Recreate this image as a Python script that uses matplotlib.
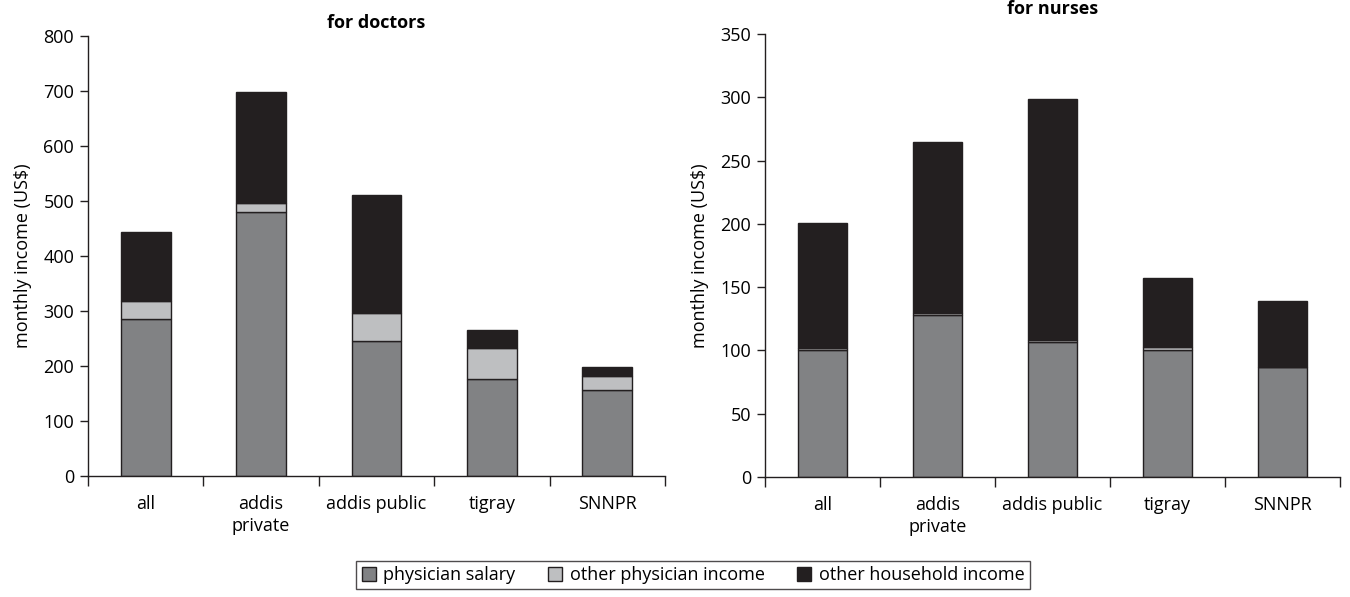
import numpy as np
import matplotlib
matplotlib.use("Agg")
import matplotlib.pyplot as plt
from matplotlib.patches import Patch

plt.rcParams['font.family'] = ['Open Sans', 'DejaVu Sans']

# categories and values
regions = ['all', 'addis\nprivate', 'addis public', 'tigray', 'SNNPR']
series_names = ['physician salary', 'other physician income', 'other household income']

doc_salary = [286, 480, 246, 177, 157]
doc_other_phys = [33, 16, 50, 56, 24]
doc_household = [125, 203, 215, 33, 17]

nurse_salary = [100.6, 127.7, 106.6, 100.6, 86.9]
nurse_other_phys = [1.4, 1.8, 1.8, 2.1, 0.4]
nurse_household = [98.6, 134.8, 189.9, 54.5, 51.4]

colors = ['#818284', '#bebfc1', '#231f20']
edge = '#231f20'
FS = 13


def draw_panel(ax, stacks, ymax, ystep, title, title_y):
    x = np.arange(len(regions))
    bottom = np.zeros(len(regions))
    for vals, c in zip(stacks, colors):
        ax.bar(x, vals, width=0.43, bottom=bottom, color=c,
               edgecolor=edge, linewidth=1.0, zorder=2)
        bottom = bottom + np.array(vals)

    ax.set_xlim(-0.5, len(regions) - 0.5)
    ax.set_ylim(0, ymax)
    ax.set_yticks(np.arange(0, ymax + 1, ystep))
    ax.set_xticks(np.arange(-0.5, len(regions) - 0.4, 1.0))
    ax.set_xticklabels([])
    ax.set_xticks(x, minor=True)
    ax.set_xticklabels(regions, minor=True, fontsize=FS)
    ax.tick_params(axis='x', which='minor', length=0, pad=14)
    ax.tick_params(axis='x', which='major', length=7, width=1, color=edge)
    ax.tick_params(axis='y', length=6, width=1, color=edge, labelsize=FS, pad=4)
    for lab in ax.get_xticklabels(minor=True):
        lab.set_verticalalignment('top')
        lab.set_linespacing(1.25)

    for s in ['top', 'right']:
        ax.spines[s].set_visible(False)
    for s in ['left', 'bottom']:
        ax.spines[s].set_color(edge)
        ax.spines[s].set_linewidth(1.0)

    ax.set_ylabel('monthly income (US\\$)', fontsize=FS, labelpad=8)
    ax.text(0.5, title_y, title, transform=ax.transAxes, ha='center',
            va='bottom', fontsize=FS, fontweight='bold')


fig = plt.figure(figsize=(13.5, 5.97), dpi=100)
ax1 = fig.add_axes([88 / 1350, 1 - 476 / 597, (665 - 88) / 1350, 440 / 597])
ax2 = fig.add_axes([765 / 1350, 1 - 477 / 597, (1340 - 765) / 1350, 443 / 597])

draw_panel(ax1, [doc_salary, doc_other_phys, doc_household], 800, 100,
           'for doctors', 1.01)
draw_panel(ax2, [nurse_salary, nurse_other_phys, nurse_household], 350, 50,
           'for nurses', 1.035)

handles = [Patch(facecolor=c, edgecolor=edge, linewidth=1.0) for c in colors]
leg = fig.legend(handles, series_names, loc='center', ncol=3,
                 bbox_to_anchor=(693 / 1350, 1 - 575 / 597), fontsize=FS,
                 frameon=True, fancybox=False, edgecolor=edge,
                 handlelength=0.8, handleheight=0.8, handletextpad=0.4,
                 columnspacing=1.8, borderpad=0.3)
leg.get_frame().set_linewidth(1.0)

fig.savefig('out.png', dpi=100)
